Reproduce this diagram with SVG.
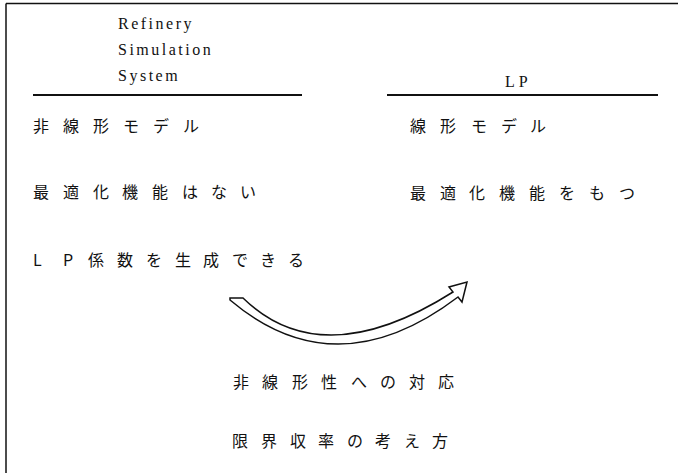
<svg xmlns="http://www.w3.org/2000/svg" width="678" height="473" viewBox="0 0 678 473">
<style>
.en{font-family:"Liberation Serif","DejaVu Serif",serif;font-size:16px;fill:#111;letter-spacing:2.5px}
.jp{font-family:"Noto Sans CJK JP","Noto Sans CJK SC",sans-serif;font-size:16px;fill:#111}
.rule{stroke:#111;stroke-width:2;fill:none}
.frame{stroke:#111;stroke-width:1.5;fill:none}
</style>
<rect width="678" height="473" fill="#fff"/>
<g id="frame">
<line class="frame" x1="6" y1="3.5" x2="678" y2="3.5"/>
<line class="frame" x1="6" y1="3.5" x2="6" y2="473"/>
</g>
<g id="header-left">
<text class="en" x="118" y="29">Refinery</text>
<text class="en" x="118" y="55">Simulation</text>
<text class="en" x="118" y="81">System</text>
<line class="rule" x1="33" y1="95" x2="302" y2="95"/>
</g>
<g id="header-right">
<text class="en" x="505" y="87" style="letter-spacing:4px">LP</text>
<line class="rule" x1="387" y1="95" x2="658" y2="95"/>
</g>
<g id="left-column">
<text class="jp" x="33 63 93 123 153 183" y="132">非線形モデル</text>
<text class="jp" x="33 63 93 122 152 182 211 240" y="198">最適化機能はない</text>
<text class="jp" x="33 63 88 117 146 175 203 232 260 288" y="266">LP係数を生成できる</text>
</g>
<g id="right-column">
<text class="jp" x="410 440 471 501 530" y="132">線形モデル</text>
<text class="jp" x="410 440 469 499 529 559 589 619" y="199">最適化機能をもつ</text>
</g>
<g id="connectors">
<path d="M 230 298 L 243 298 Q 322 375 453 292 L 449 287 L 467 282 L 462 302 L 458 297 Q 336 389.5 230 300 Z" fill="#fff" stroke="#111" stroke-width="1.5" stroke-linejoin="miter"/>
</g>
<g id="bottom">
<text class="jp" x="233 262 292 321 351 380 409 438" y="388">非線形性への対応</text>
<text class="jp" x="232 261 290 318 347 375 404 432" y="447">限界収率の考え方</text>
</g>
</svg>
